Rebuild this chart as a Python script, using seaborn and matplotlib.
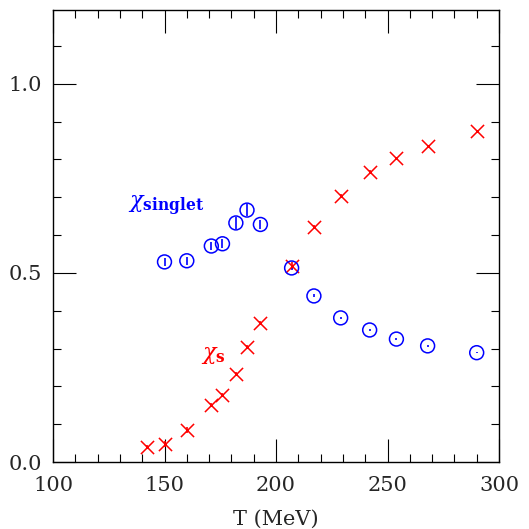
import matplotlib
matplotlib.use("Agg")
import matplotlib.pyplot as plt
import seaborn as sns
import numpy as np
import pandas as pd
from matplotlib.ticker import MultipleLocator

# data
T_s = [142, 150, 160, 171, 176, 182, 187, 193, 207, 217, 229, 242, 254, 268, 290]
chi_s = [0.040, 0.048, 0.085, 0.151, 0.177, 0.233, 0.304, 0.368, 0.519, 0.622, 0.704, 0.767, 0.804, 0.836, 0.876]
chi_s_err = [0.005, 0.008, 0.008, 0.006, 0.006, 0.005, 0.006, 0.006, 0.010, 0.004, 0.004, 0.004, 0.003, 0.003, 0.003]

T_sing = [150, 160, 171, 176, 182, 187, 193, 207, 217, 229, 242, 254, 268, 290]
chi_sing = [0.529, 0.532, 0.571, 0.577, 0.632, 0.666, 0.628, 0.513, 0.439, 0.381, 0.349, 0.325, 0.307, 0.289]
chi_sing_err = [0.010, 0.010, 0.010, 0.012, 0.015, 0.016, 0.012, 0.006, 0.004, 0.003, 0.003, 0.002, 0.002, 0.002]

sns.set_style("ticks")
plt.rcParams['font.family'] = ['DejaVu Serif']
plt.rcParams['mathtext.fontset'] = 'dejavuserif'

fig = plt.figure(figsize=(5.29, 5.29), dpi=100)
ax = fig.add_axes([53/529, 1-462/529, (499-53)/529, (462-10)/529])

df_s = pd.DataFrame({"T": T_s, "chi": chi_s})
df_g = pd.DataFrame({"T": T_sing, "chi": chi_sing})

ax.errorbar(T_s, chi_s, yerr=chi_s_err, fmt='none', ecolor='red', elinewidth=1.2, capsize=0)
ax.errorbar(T_sing, chi_sing, yerr=chi_sing_err, fmt='none', ecolor='blue', elinewidth=1.2, capsize=0)
sns.scatterplot(data=df_s, x="T", y="chi", marker='x', color='red', s=90, linewidth=1.1, ax=ax, zorder=3)
sns.scatterplot(data=df_g, x="T", y="chi", marker='o', facecolor='none', edgecolor='blue', s=100, linewidth=1.1, ax=ax, zorder=3)

ax.set_xlim(100, 300)
ax.set_ylim(0, 1.195)
ax.xaxis.set_major_locator(MultipleLocator(50))
ax.xaxis.set_minor_locator(MultipleLocator(10))
ax.yaxis.set_major_locator(MultipleLocator(0.5))
ax.yaxis.set_minor_locator(MultipleLocator(0.1))
ax.yaxis.set_major_formatter(plt.FuncFormatter(lambda v, p: f"{v:.1f}"))
ax.tick_params(which='both', direction='in', top=True, right=True, color='black', width=0.8)
ax.tick_params(which='major', length=16.5, labelsize=15, pad=8)
ax.tick_params(which='minor', length=6)
ax.tick_params(axis='x', which='major', pad=10)
for sp in ax.spines.values():
    sp.set_linewidth(1.0)
    sp.set_color('black')

ax.set_xlabel("T (MeV)", fontsize=15)
ax.xaxis.set_label_coords(0.5, -0.105)
ax.set_ylabel("")

ax.text(151, 0.678, r'$\chi_{\mathbf{singlet}}$', color='blue', fontsize=16, ha='center', va='center')
ax.text(172, 0.283, r'$\chi_{\mathbf{s}}$', color='red', fontsize=16, ha='center', va='center')

fig.savefig("out.png", dpi=100)
